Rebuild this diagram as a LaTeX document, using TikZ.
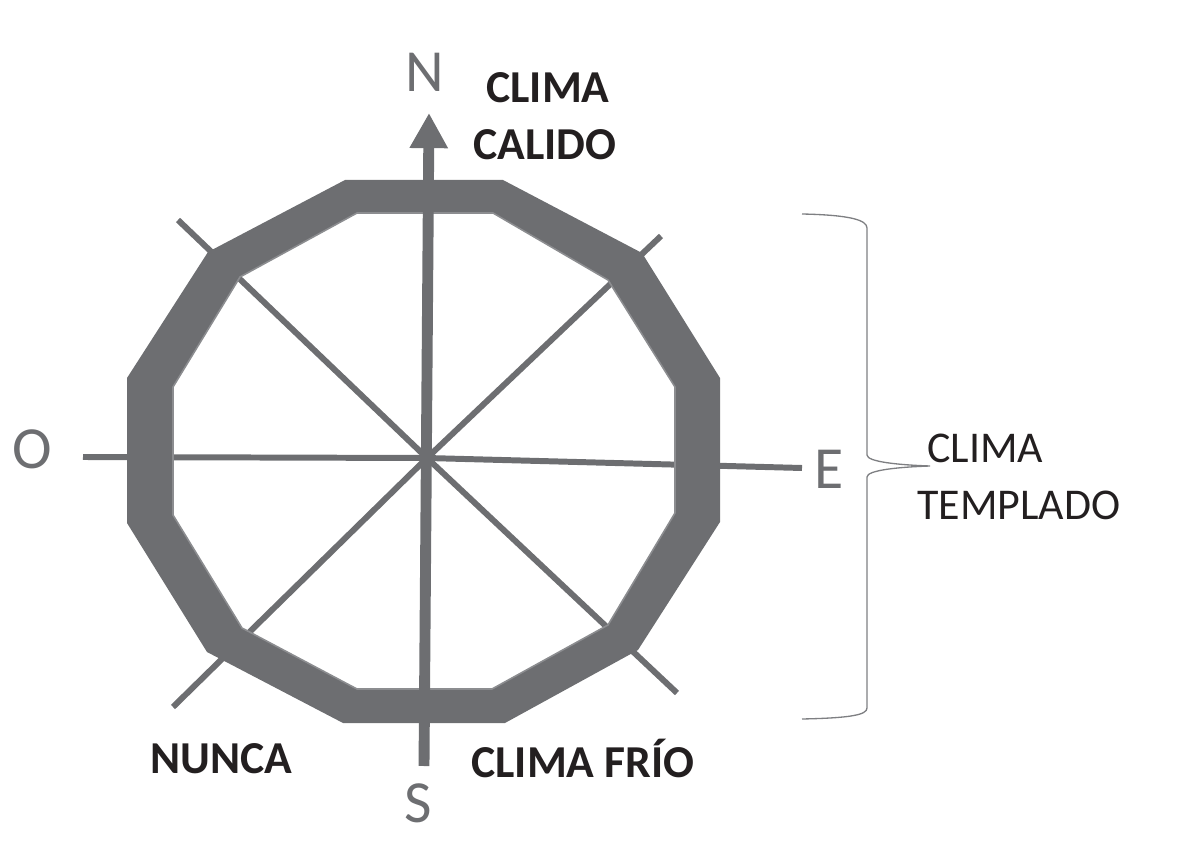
\documentclass[tikz,border=0pt]{standalone}
\usepackage{fontspec}
\setmainfont{Carlito}
\usepackage{tikz}
\usetikzlibrary{arrows.meta}

\definecolor{ringgray}{HTML}{6D6E71}
\definecolor{edgegray}{HTML}{8C8D90}
\definecolor{bracegray}{HTML}{7E7F82}
\definecolor{txtblack}{HTML}{231F20}

\begin{document}
\begin{tikzpicture}[
  x=0.02cm, y=-0.02cm,
  ring/.style={fill=ringgray, even odd rule},
  axis/.style={draw=ringgray, line width=3.4pt},
  axisn/.style={draw=ringgray, line width=6.2pt, -{Triangle[length=20pt, width=20.5pt]}},
  dirlbl/.style={text=ringgray, inner sep=0pt, font=\fontsize{34}{40}\selectfont},
  clima/.style={text=txtblack, inner sep=0pt, font=\fontsize{26}{31}\selectfont\bfseries},
  templ/.style={text=txtblack, inner sep=0pt, font=\fontsize{25}{30}\selectfont},
  brace/.style={draw=bracegray, line width=0.75pt}
]
\useasboundingbox (0,0) rectangle (1194,844);
\coordinate (c) at (427,458);

% rays under the ring
\draw[axis] (83,457) -- (c) -- (802,468);
\draw[axis] (178,220) -- (c) -- (677,693);
\draw[axis] (661,236) -- (c) -- (173,707);

% ring
\path[ring] (345,180) -- (503,180) -- (642,253) -- (720,378) -- (720,522) -- (638,650)
  -- (505,723) -- (343,723) -- (207,652) -- (127,523) -- (127,378) -- (208,252) -- cycle
  (357,213) -- (493,213) -- (608,280) -- (675,387) -- (675,513) -- (608,625)
  -- (492,689) -- (357,689) -- (242,628) -- (173,515) -- (173,387) -- (240,277) -- cycle;
\draw[edgegray, line width=0.9pt] (357,213) -- (493,213) -- (608,280) -- (675,387) -- (675,513)
  -- (608,625) -- (492,689) -- (357,689) -- (242,628) -- (173,515) -- (173,387) -- (240,277) -- cycle;

% north axis on top
\draw[axisn] (424,766) -- (429,113);

% compass letters
\node[dirlbl, anchor=base] (n) at (425,92) {N};
\node[dirlbl, anchor=base] (o) at (32,469) {O};
\node[dirlbl, anchor=base] (e) at (829,489) {E};
\node[dirlbl, anchor=base] (s) at (418,822) {S};

% labels
\node[clima, anchor=base] (cal1) at (548,103) {CLIMA};
\node[clima, anchor=base] (cal2) at (545,160) {CALIDO};
\node[clima, anchor=base] (nunca) at (221,773) {NUNCA};
\node[clima, anchor=base] (frio) at (583,777) {CLIMA FRÍO};
\node[templ, anchor=base west] (tem1) at (927,463) {CLIMA};
\node[templ, anchor=base west] (tem2) at (917,520) {TEMPLADO};

% brace
\draw[brace] (802,214) .. controls (850,215) and (867,220) .. (867,228) -- (867,455)
  .. controls (867,462) and (900,465) .. (930,466)
  .. controls (900,467) and (867,470) .. (867,477) -- (867,708)
  .. controls (867,715) and (850,718) .. (802,719);
\end{tikzpicture}
\end{document}
